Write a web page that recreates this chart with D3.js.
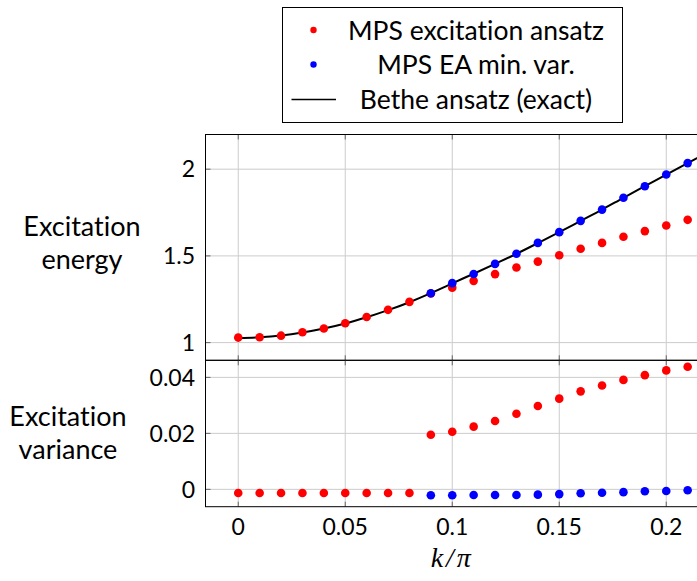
<!DOCTYPE html>
<html lang="en">
<head>
<meta charset="UTF-8">
<script src="https://d3js.org/d3.v7.min.js"></script>
<title>Excitation energy and variance</title>
<style>
    body { margin: 0; background: #fff; }
    svg text { font-family: Lato, "Noto Sans", sans-serif; fill: #000; font-variant-ligatures: none; }
    .grid line { stroke: #cccccc; stroke-width: 1px; }
    .tick-mark { stroke: #666; stroke-width: 1px; }
    .frame { fill: none; stroke: #000; stroke-width: 1px; }
</style>
</head>
<body>
<svg id="chart" width="697" height="581"></svg>
<script>
// k / pi values
var kRed = [0, 0.01, 0.02, 0.03, 0.04, 0.05, 0.06, 0.07, 0.08, 0.09, 0.10,
            0.11, 0.12, 0.13, 0.14, 0.15, 0.16, 0.17, 0.18, 0.19, 0.20, 0.21];
var kBlue = [0.09, 0.10, 0.11, 0.12, 0.13, 0.14, 0.15, 0.16, 0.17, 0.18, 0.19, 0.20, 0.21];

// MPS excitation ansatz
var energyRed = [1.029, 1.031, 1.040, 1.060, 1.081, 1.112, 1.148, 1.189, 1.235, 1.283, 1.317,
                 1.356, 1.395, 1.433, 1.467, 1.504, 1.541, 1.575, 1.610, 1.643, 1.675, 1.708];
var varianceRed = [-0.0013, -0.0013, -0.0013, -0.0013, -0.0013, -0.0013, -0.0013, -0.0013, -0.0013,
                   0.0195, 0.0206, 0.0224, 0.0244, 0.0270, 0.0298, 0.0324, 0.0350, 0.0371,
                   0.0391, 0.0408, 0.0425, 0.0438];

// MPS EA min. var.
var energyBlue = [1.285, 1.343, 1.396, 1.454, 1.512, 1.575, 1.637, 1.702, 1.767, 1.835, 1.902, 1.969, 2.035];
var varianceBlue = [-0.0021, -0.0021, -0.0020, -0.0020, -0.0020, -0.0019, -0.0017, -0.0014,
                    -0.0012, -0.0010, -0.0007, -0.0006, -0.0003];

// Bethe ansatz (exact)
var kExact = [0, 0.01, 0.02, 0.03, 0.04, 0.05, 0.06, 0.07, 0.08, 0.09, 0.10, 0.11,
              0.12, 0.13, 0.14, 0.15, 0.16, 0.17, 0.18, 0.19, 0.20, 0.21, 0.22];
var energyExact = [1.027, 1.031, 1.041, 1.058, 1.081, 1.110, 1.146, 1.187, 1.233, 1.285, 1.342,
                   1.397, 1.454, 1.512, 1.574, 1.637, 1.702, 1.767, 1.835, 1.902, 1.969, 2.035, 2.102];

var xTicks = [0, 0.05, 0.1, 0.15, 0.2];
var xTickLabels = ["0", "0.05", "0.1", "0.15", "0.2"];
var yTopTicks = [1, 1.5, 2];
var yTopTickLabels = ["1", "1.5", "2"];
var yBotTicks = [0, 0.02, 0.04];
var yBotTickLabels = ["0", "0.02", "0.04"];

var legendNames = ["MPS excitation ansatz", "MPS EA min. var.", "Bethe ansatz (exact)"];
var colors = { red: "#ff0000", blue: "#0000ff", black: "#000000" };

var svg = d3.select("#chart");

// plot geometry
var left = 205.5, right = 699;
var topY0 = 134.5, midY = 360.3, botY1 = 506.7;

var x = d3.scaleLinear().domain([-0.0153, 0.2153]).range([left, right]);
var yTop = d3.scaleLinear().domain([0.898, 2.2]).range([midY, topY0]);
var yBot = d3.scaleLinear().domain([-0.0062, 0.0461]).range([botY1, midY]);

svg.append("defs").append("clipPath").attr("id", "clipTop")
    .append("rect").attr("x", left).attr("y", topY0).attr("width", right - left).attr("height", midY - topY0);

function panel(y, ticks, labels, y0, y1) {
    var g = svg.append("g");
    var grid = g.append("g").attr("class", "grid");
    grid.selectAll("line.vx").data(xTicks).join("line")
        .attr("x1", d => x(d)).attr("x2", d => x(d))
        .attr("y1", y0).attr("y2", y1);
    grid.selectAll("line.hy").data(ticks).join("line")
        .attr("x1", left).attr("x2", right)
        .attr("y1", d => y(d)).attr("y2", d => y(d));
    // small inward tick marks
    xTicks.forEach(function (t) {
        g.append("line").attr("class", "tick-mark")
            .attr("x1", x(t)).attr("x2", x(t)).attr("y1", y0).attr("y2", y0 + 5);
        g.append("line").attr("class", "tick-mark")
            .attr("x1", x(t)).attr("x2", x(t)).attr("y1", y1).attr("y2", y1 - 5);
    });
    ticks.forEach(function (t) {
        g.append("line").attr("class", "tick-mark")
            .attr("x1", left).attr("x2", left + 5).attr("y1", y(t)).attr("y2", y(t));
    });
    g.selectAll("text.ytick").data(ticks).join("text")
        .attr("x", 195).attr("y", d => y(d))
        .attr("dy", "0.36em")
        .attr("text-anchor", "end")
        .style("font-size", "23px")
        .text((d, i) => labels[i]);
    g.append("rect").attr("class", "frame")
        .attr("x", left).attr("y", y0).attr("width", right + 5 - left).attr("height", y1 - y0);
    return g;
}

panel(yTop, yTopTicks, yTopTickLabels, topY0, midY);
panel(yBot, yBotTicks, yBotTickLabels, midY, botY1);

// x tick labels
svg.selectAll("text.xtick").data(xTicks).join("text")
    .attr("class", "xtick")
    .attr("x", d => x(d)).attr("y", 535)
    .attr("text-anchor", "middle")
    .style("font-size", "23px")
    .text((d, i) => xTickLabels[i]);

svg.append("text")
    .attr("x", x(0.1)).attr("y", 567)
    .attr("text-anchor", "middle")
    .style("font-family", "'Liberation Serif', serif")
    .style("font-style", "italic")
    .style("font-size", "28px")
    .style("letter-spacing", "3px")
    .text("k/π");

// y labels
function ylabel(lines, cx, y0) {
    lines.forEach(function (s, i) {
        svg.append("text").attr("x", cx).attr("y", y0 + i * 33)
            .attr("text-anchor", "middle").style("font-size", "27px").text(s);
    });
}
ylabel(["Excitation", "energy"], 82, 236);
ylabel(["Excitation", "variance"], 68, 426);

// Bethe ansatz line
var line = d3.line().x((d, i) => x(kExact[i])).y(d => yTop(d)).curve(d3.curveMonotoneX);
svg.append("path").datum(energyExact)
    .attr("clip-path", "url(#clipTop)")
    .attr("d", line)
    .attr("fill", "none").attr("stroke", colors.black).attr("stroke-width", 2);

var r = 4.3;
// energy dots
svg.append("g").selectAll("circle").data(energyRed).join("circle")
    .attr("cx", (d, i) => x(kRed[i])).attr("cy", d => yTop(d)).attr("r", r).attr("fill", colors.red);
svg.append("g").selectAll("circle").data(energyBlue).join("circle")
    .attr("cx", (d, i) => x(kBlue[i])).attr("cy", d => yTop(d)).attr("r", r).attr("fill", colors.blue);
// variance dots
svg.append("g").selectAll("circle").data(varianceRed).join("circle")
    .attr("cx", (d, i) => x(kRed[i])).attr("cy", d => yBot(d)).attr("r", r).attr("fill", colors.red);
svg.append("g").selectAll("circle").data(varianceBlue).join("circle")
    .attr("cx", (d, i) => x(kBlue[i])).attr("cy", d => yBot(d)).attr("r", r).attr("fill", colors.blue);

// legend
var lg = svg.append("g");
lg.append("rect").attr("x", 282.5).attr("y", 7.5).attr("width", 340).attr("height", 115)
    .attr("fill", "#fff").attr("stroke", "#000").attr("stroke-width", 1);
var rowY = [30, 64.5, 99.5];
lg.append("circle").attr("cx", 313.5).attr("cy", rowY[0]).attr("r", 3.2).attr("fill", colors.red);
lg.append("circle").attr("cx", 313.5).attr("cy", rowY[1]).attr("r", 3.2).attr("fill", colors.blue);
lg.append("line").attr("x1", 291.5).attr("x2", 336).attr("y1", rowY[2]).attr("y2", rowY[2])
    .attr("stroke", colors.black).attr("stroke-width", 1.6);
lg.selectAll("text").data(legendNames).join("text")
    .attr("x", 476).attr("y", (d, i) => rowY[i]).attr("dy", "0.36em")
    .attr("text-anchor", "middle").style("font-size", "26.5px").text(d => d);
</script>
</body>
</html>
